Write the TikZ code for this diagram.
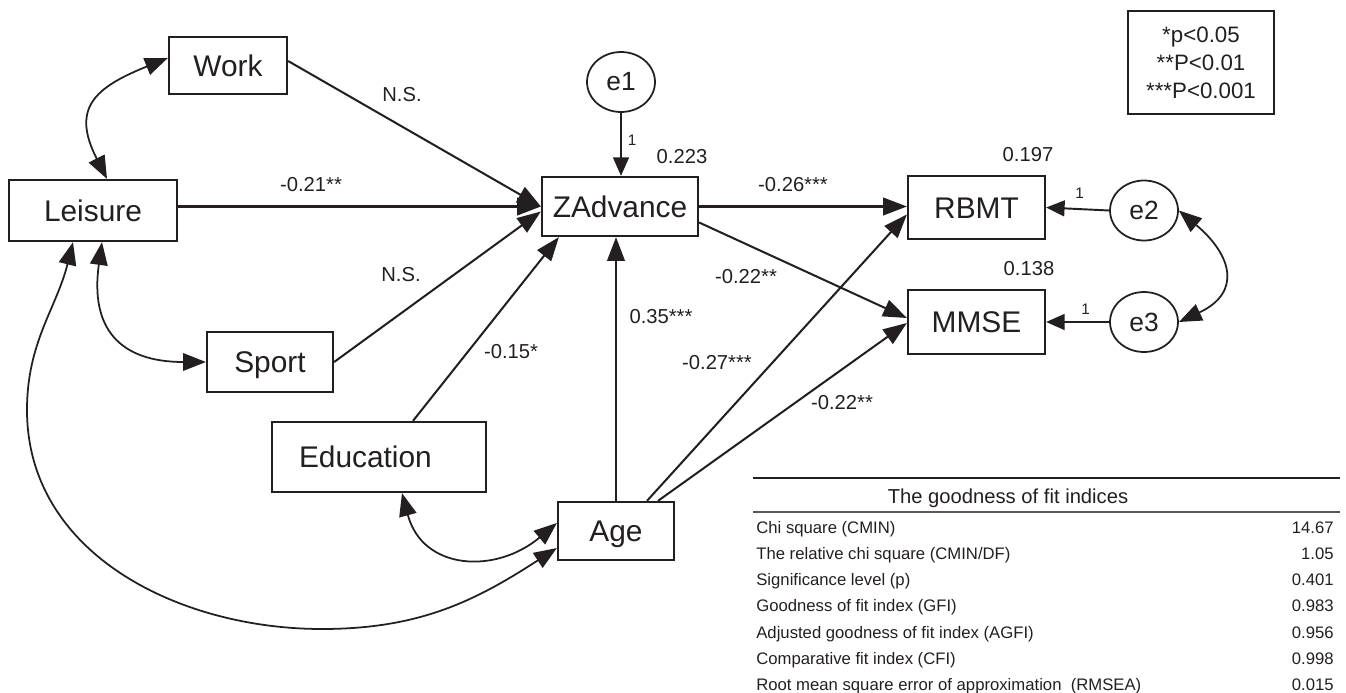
\documentclass[tikz,border=0pt]{standalone}
\usepackage{fontspec}
\setmainfont{Liberation Sans}
\usepackage{tikz}
\usetikzlibrary{arrows.meta}
\usetikzlibrary{shapes.geometric}

\definecolor{ink}{RGB}{35,31,32}

\tikzset{
  var/.style={draw=ink, line width=1.3pt, inner sep=0pt, text=ink,
    font=\fontsize{17}{20}\selectfont, text height=12.2pt, text depth=0pt},
  err/.style={ellipse, draw=ink, line width=1pt, inner sep=0pt, text=ink,
    minimum width=1.36cm, minimum height=1.2cm, font=\fontsize{15}{18}\selectfont},
  reg/.style={draw=ink, line width=1.15pt, -{Triangle[length=13.5pt,width=10pt]}},
  fix/.style={draw=ink, line width=1.1pt, -{Triangle[length=10.5pt,width=9pt]}},
  cov/.style={draw=ink, line width=1pt,
    {Triangle[length=13pt,width=10pt]}-{Triangle[length=13pt,width=10pt]}},
  coef/.style={text=ink, inner sep=0pt, font=\fontsize{11.5}{13}\selectfont},
  one/.style={text=ink, inner sep=0pt, font=\fontsize{8.7}{10}\selectfont},
  fitrow/.style={text=ink, inner sep=0pt, font=\fontsize{9.5}{11}\selectfont}
}

\begin{document}
\begin{tikzpicture}[x=0.02cm, y=0.02cm]
    \useasboundingbox (0,0) rectangle (1346,-693);

    % the observed variables
    \node[var, minimum width=2.36cm, minimum height=1.14cm] (work) at (228,-65.5) {Work};
    \node[var, minimum width=3.36cm, minimum height=1.22cm] (leisure) at (93,-210.5) {Leisure};
    \node[var, minimum width=2.52cm, minimum height=1.2cm] (sport) at (270,-362) {Sport};
    \node[var, minimum width=4.28cm, minimum height=1.4cm, inner xsep=0.54cm, text width=3.2cm, align=left] (edu) at (379,-457) {Education};
    \node[var, minimum width=2.32cm, minimum height=1.16cm] (age) at (616,-531) {Age};
    \node[var, minimum width=3.12cm, minimum height=1.18cm] (zadv) at (620,-206.5) {ZAdvance};
    \node[var, minimum width=2.74cm, minimum height=1.26cm] (rbmt) at (976.5,-207.5) {RBMT};
    \node[var, minimum width=2.74cm, minimum height=1.28cm] (mmse) at (976.5,-322) {MMSE};

    % the error terms
    \node[err] (e1) at (621,-82) {e1};
    \node[err] (e2) at (1144,-210.5) {e2};
    \node[err] (e3) at (1144,-322) {e3};

    % the paths into ZAdvance
    \draw[reg] ([yshift=0.09cm]work.east) -- (zadv.west);
    \draw[reg] (leisure.east |- zadv.west) -- (zadv.west);
    \draw[reg] (sport.east) -- ([yshift=-0.1cm]zadv.west);
    \draw[reg] ([xshift=0.68cm]edu.north) -- ([xshift=0.36cm]zadv.south west);
    \draw[reg] (age.north) -- (age.north |- zadv.south);
    \draw[fix] (e1.south) -- (e1.south |- zadv.north);

    % the paths into RBMT and MMSE
    \draw[reg] (zadv.east) -- (zadv.east -| rbmt.west);
    \draw[reg] ([yshift=-0.32cm]zadv.east) -- ([yshift=0.08cm]mmse.west);
    \draw[reg] ([xshift=0.62cm]age.north) -- ([yshift=-0.14cm]rbmt.west);
    \draw[reg] ([xshift=0.84cm]age.north) -- ([yshift=-0.02cm]mmse.west);
    \draw[fix] (e2.west) -- (rbmt.east);
    \draw[fix] (e3.west) -- (mmse.east);

    % the covariances
    \draw[cov] ([xshift=0.28cm]leisure.north) to[out=117, in=202, looseness=1.5] ([yshift=0.15cm]work.west);
    \draw[cov] ([xshift=0.18cm]leisure.south) to[out=262, in=180, looseness=1.4] (sport.west);
    \draw[cov] ([xshift=-0.4cm]leisure.south) to[out=256, in=90] (27,-410)
        to[out=270, in=180] (322,-629) to[out=0, in=213] ([yshift=-0.34cm]age.west);
    \draw[cov] ([xshift=0.46cm]edu.south) to[out=285, in=220, looseness=1.3] ([yshift=0.16cm]age.west);
    \draw[cov] (e2.east) to[out=-40, in=25, looseness=1.6] (e3.east);

    % path coefficients
    \node[coef] (cwork) at (402,-95) {N.S.};
    \node[coef] (cleis) at (311,-184.5) {-0.21**};
    \node[coef] (cspor) at (401,-275) {N.S.};
    \node[coef] (cedu) at (511,-352) {-0.15*};
    \node[coef] (cage) at (661,-317) {0.35***};
    \node[coef] (crbmt) at (793,-185) {-0.26***};
    \node[coef] (cmmse) at (746,-277) {-0.22**};
    \node[coef] (cager) at (717,-363) {-0.27***};
    \node[coef] (cagem) at (842,-403) {-0.22**};

    % squared multiple correlations
    \node[coef] (rzadv) at (682,-157) {0.223};
    \node[coef] (rrbmt) at (1028,-155) {0.197};
    \node[coef] (rmmse) at (1029,-269) {0.138};

    % fixed loadings
    \node[one] (f1) at (632,-140) {1};
    \node[one] (f2) at (1079.5,-193.5) {1};
    \node[one] (f3) at (1085.5,-309.5) {1};

    % significance levels
    \node[draw=ink, line width=0.75pt, minimum width=2.92cm, minimum height=2.06cm, align=center,
        text=ink, font=\fontsize{12.7}{15.9}\selectfont] (sig) at (1201,-62.5) {*p<0.05\\**P<0.01\\***P<0.001};

    % the fit table
    \draw[ink, line width=1.1pt] (753,-478) -- (1340,-478);
    \draw[ink!75, line width=0.6pt] (753,-512) -- (1340,-512);
    \node[text=ink, inner sep=0pt, anchor=base, font=\fontsize{11.5}{13}\selectfont] (fithead) at (1008,-503) {The goodness of fit indices};
    \node[fitrow, anchor=base west] (n1) at (756,-533) {Chi square (CMIN)};
    \node[fitrow, anchor=base west] (n2) at (756,-559.3) {The relative chi square (CMIN/DF)};
    \node[fitrow, anchor=base west] (n3) at (756,-585.6) {Significance level (p)};
    \node[fitrow, anchor=base west] (n4) at (756,-611.9) {Goodness of fit index (GFI)};
    \node[fitrow, anchor=base west] (n5) at (756,-638.2) {Adjusted goodness of fit index (AGFI)};
    \node[fitrow, anchor=base west] (n6) at (756,-664.5) {Comparative fit index (CFI)};
    \node[fitrow, anchor=base west] (n7) at (756,-690.8) {Root mean square error of approximation\ \ (RMSEA)};
    \node[fitrow, anchor=base east] (v1) at (1334,-533) {14.67};
    \node[fitrow, anchor=base east] (v2) at (1334,-559.3) {1.05};
    \node[fitrow, anchor=base east] (v3) at (1334,-585.6) {0.401};
    \node[fitrow, anchor=base east] (v4) at (1334,-611.9) {0.983};
    \node[fitrow, anchor=base east] (v5) at (1334,-638.2) {0.956};
    \node[fitrow, anchor=base east] (v6) at (1334,-664.5) {0.998};
    \node[fitrow, anchor=base east] (v7) at (1334,-690.8) {0.015};
\end{tikzpicture}
\end{document}
